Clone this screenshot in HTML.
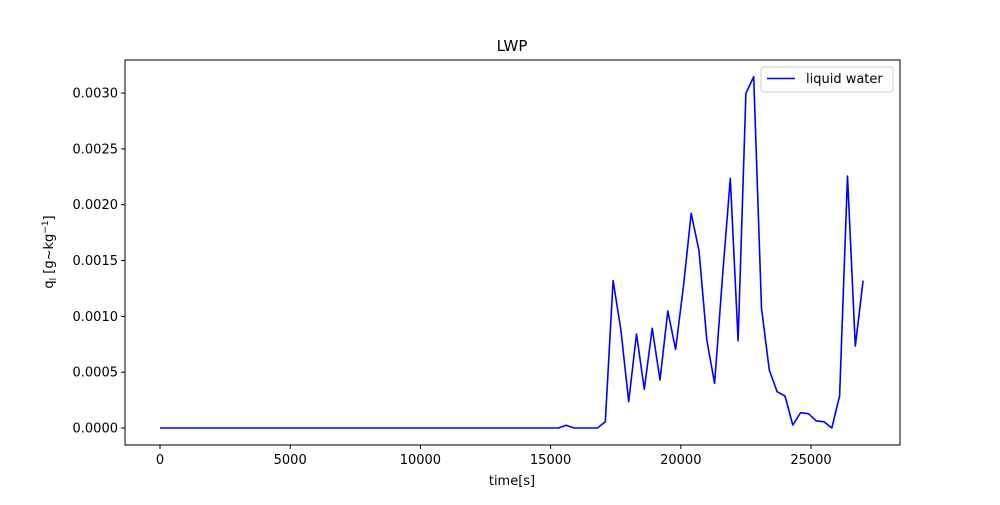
<!DOCTYPE html>
<html><head><meta charset="utf-8"><style>
body{margin:0;background:#fff;font-family:"Liberation Sans","DejaVu Sans",sans-serif}
svg text{font-family:"DejaVu Sans","Liberation Sans",sans-serif;font-size:13px;fill:#000}
</style></head><body>
<svg id="chart" width="1000" height="500" viewBox="0 0 1000 500">
<text x="512" y="51" text-anchor="middle" font-size="15" style="font-size:15px">LWP</text>
<g id="ticks"></g>
<polyline id="line" fill="none" stroke="#0000ff" stroke-width="1.6" stroke-linejoin="round"/>
<rect x="125" y="60" width="775" height="385" fill="none" stroke="#000" stroke-width="1"/>
<text x="512" y="485" text-anchor="middle">time[s]</text>
<text transform="translate(53,252) rotate(-90)" text-anchor="middle">q<tspan font-size="9" dy="3">l</tspan><tspan dy="-3"> [g~kg</tspan><tspan font-size="9" dy="-5">−1</tspan><tspan dy="5">]</tspan></text>
<g>
<rect x="761" y="67" width="132" height="25" rx="3" fill="#fff" stroke="#ccc"/>
<line x1="767" y1="78.5" x2="795" y2="78.5" stroke="#0000ff" stroke-width="1.6"/>
<text x="806" y="83">liquid water</text>
</g>
</svg>
<script>
const xTicks=[0,5000,10000,15000,20000,25000];
const yTicks=[0,0.0005,0.001,0.0015,0.002,0.0025,0.003];
const yTickLabels=["0.0000","0.0005","0.0010","0.0015","0.0020","0.0025","0.0030"];
const tStart=0, tStep=300;
const lwp=[0,0,0,0,0,0,0,0,0,0,0,0,0,0,0,0,0,0,0,0,0,0,0,0,0,0,0,0,0,0,0,0,0,0,0,0,0,0,0,0,0,0,0,0,0,0,0,0,0,0,0,0,
0.000025,0,0,0,0,
0.000056,0.00132,0.000878,0.000236,0.000842,0.000347,0.000893,0.00043,0.001048,0.000705,0.001265,0.001923,0.001588,0.000788,0.0004,0.001355,0.002236,0.000782,0.002997,0.003146,0.001072,0.00052,0.000325,0.000287,0.000027,0.000137,0.000128,0.000065,0.000056,0,0.000287,0.002257,0.000734,0.00132];
const X0=125,X1=900,Y0=60,Y1=445,xmin=-1344,xmax=28418,ymin=-0.000152,ymax=0.003296;
const sx=v=>X0+(v-xmin)/(xmax-xmin)*(X1-X0);
const sy=v=>Y1-(v-ymin)/(ymax-ymin)*(Y1-Y0);
const ns="http://www.w3.org/2000/svg",g=document.getElementById('ticks');
function mk(t,a){const e=document.createElementNS(ns,t);for(const k in a)e.setAttribute(k,a[k]);g.appendChild(e);return e;}
xTicks.forEach(v=>{const x=sx(v);
const l=mk('line',{x1:x,x2:x,y1:Y1,y2:Y1+4,stroke:'#000'});


const t=mk('text',{x:x,y:Y1+19,'text-anchor':'middle'});t.textContent=v;

});
yTicks.forEach((v,i)=>{const y=sy(v);
const l=mk('line',{x1:X0-4,x2:X0,y1:y,y2:y,stroke:'#000'});


const t=mk('text',{x:X0-7,y:y+4.5,'text-anchor':'end'});t.textContent=yTickLabels[i];

});
document.getElementById('line').setAttribute('points',lwp.map((v,i)=>sx(tStart+i*tStep).toFixed(1)+','+sy(v).toFixed(1)).join(' '));
</script>
</body></html>
